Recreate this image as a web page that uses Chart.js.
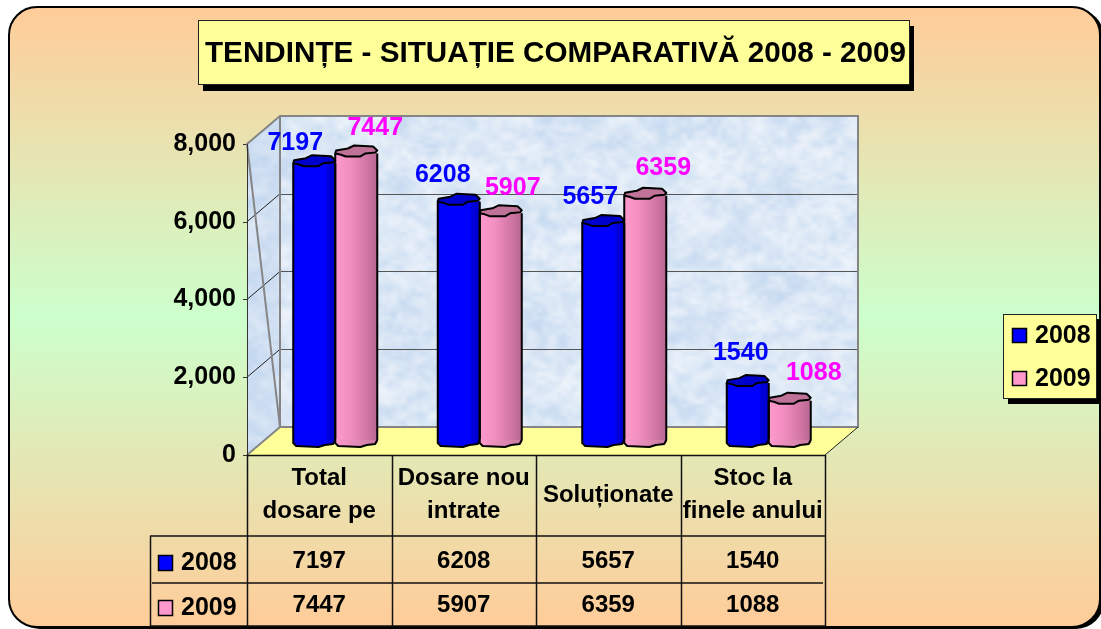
<!DOCTYPE html>
<html>
<head>
<meta charset="utf-8">
<style>html,body{margin:0;padding:0;background:#fff;overflow:hidden}canvas{display:block}</style>
<script src="https://cdn.jsdelivr.net/npm/chart.js@4"></script>
</head>
<body>
<canvas id="c" width="1101" height="629"></canvas>
<script>
const chartTitle = "TENDINȚE - SITUAȚIE COMPARATIVĂ 2008 - 2009";
const categories = [["Total","dosare pe"],["Dosare nou","intrate"],["Soluționate"],["Stoc la","finele anului"]];
const seriesNames = ["2008","2009"];
const values2008 = [7197,6208,5657,1540];
const values2009 = [7447,5907,6359,1088];
const yTicks = [0,2000,4000,6000,8000];

const FONT = '"Liberation Sans", Arial, sans-serif';
const BLUE = '#0000FF', PINK = '#FF99CC', YEL = '#FFFF99';
const DX = 33, DY = 28;            // depth of the 3D box
const labelNudge = [[[-19,-20],[19,-25]],[[-16,-27],[12,-25]],[[-13,-26],[18,-28]],[[-7,-30],[24,-28]]];

function rr(g,x,y,w,h,r){g.beginPath();g.roundRect(x,y,w,h,r);}
function poly(g,pts){g.beginPath();pts.forEach((p,i)=>i?g.lineTo(p[0],p[1]):g.moveTo(p[0],p[1]));g.closePath();}
function hash(x,y){const s=Math.sin(x*12.9898+y*78.233)*43758.5453;return s-Math.floor(s);}

function marble(w,h){
  const out=document.createElement('canvas');out.width=w;out.height=h;
  const o=out.getContext('2d');o.imageSmoothingEnabled=true;o.imageSmoothingQuality='high';
  o.fillStyle='#DDE9F6';o.fillRect(0,0,w,h);
  [[24,.55,1],[10,.5,7],[5,.3,13]].forEach(([cell,alpha,seed])=>{
    const cw=Math.ceil(w/cell)+1,ch=Math.ceil(h/(cell*.8))+1;
    const t=document.createElement('canvas');t.width=cw;t.height=ch;
    const tc=t.getContext('2d');const im=tc.createImageData(cw,ch);
    for(let y=0;y<ch;y++)for(let x=0;x<cw;x++){
      const v=hash(x+seed,y+seed*3),i=(y*cw+x)*4;
      if(v>.5){im.data[i]=244;im.data[i+1]=247;im.data[i+2]=252;}else{im.data[i]=190;im.data[i+1]=212;im.data[i+2]=238;}
      im.data[i+3]=Math.abs(v-.5)*2*255;
    }
    tc.putImageData(im,0,0);
    o.globalAlpha=alpha;o.drawImage(t,0,0,cw*cell,ch*cell*.8);
  });
  o.globalAlpha=1;
  return out;
}

const scenePlugin = {
  id:'scene',
  beforeDraw(c){
    const g=c.ctx;
    g.save();
    g.fillStyle='#fff';g.fillRect(0,0,c.width,c.height);
    // panel shadow, panel, border
    g.fillStyle='#000';rr(g,12,9,1092,620,28);g.fill();
    const grad=g.createLinearGradient(0,7,0,627);
    grad.addColorStop(0,'#FFCC99');grad.addColorStop(.5,'#CCFFCC');grad.addColorStop(1,'#FFCC99');
    g.fillStyle=grad;rr(g,9,7,1091,620,28);g.fill();
    g.strokeStyle='#000';g.lineWidth=2;g.stroke();
    // title box
    g.fillStyle='#000';g.fillRect(203,26,711,65);
    g.fillStyle=YEL;g.fillRect(198.5,20.5,711,64);
    g.strokeStyle='#222';g.lineWidth=1;g.strokeRect(198.5,20.5,711,64);
    g.fillStyle='#000';g.font='bold 30px '+FONT;g.textAlign='left';g.textBaseline='middle';
    g.fillText(chartTitle,205,54,701);
    // legend box
    g.fillStyle='#000';g.fillRect(1008,319,93,85);
    g.fillStyle=YEL;g.fillRect(1003.5,314.5,93,84);
    g.strokeStyle='#222';g.strokeRect(1003.5,314.5,93,84);
    [[336,BLUE],[379,PINK]].forEach(([y,col],i)=>{
      g.fillStyle=col;g.fillRect(1012.5,y-7.5,14,14);
      g.strokeStyle='#000';g.lineWidth=1.5;g.strokeRect(1012.5,y-7.5,14,14);
      g.fillStyle='#000';g.font='bold 25px '+FONT;g.textAlign='left';g.textBaseline='middle';
      g.fillText(seriesNames[i],1035,y);
    });
    g.restore();
  },
  beforeDatasetsDraw(c){
    const g=c.ctx,ys=c.scales.y,xs=c.scales.x;
    const top=ys.getPixelForValue(8000),bot=ys.getPixelForValue(0);
    const L=xs.getPixelForValue(0)-16-72.25,R=xs.getPixelForValue(3)-16+72.25;
    g.save();
    const back=[[L+DX,top-DY],[R+DX,top-DY],[R+DX,bot-DY],[L+DX,bot-DY]];
    const side=[[L,top],[L+DX,top-DY],[L+DX,bot-DY],[L,bot]];
    const m=marble(Math.ceil(R+DX-L),Math.ceil(bot-top+DY));
    g.save();poly(g,back);g.clip();g.drawImage(m,L,top-DY);g.restore();
    g.save();poly(g,side);g.clip();g.drawImage(m,L,top-DY);
    g.fillStyle='rgba(170,195,230,.22)';g.fillRect(L,top-DY,DX,bot-top+DY);g.restore();
    // floor
    poly(g,[[L,bot],[L+DX,bot-DY],[R+DX,bot-DY],[R,bot]]);g.fillStyle=YEL;g.fill();
    // gridlines
    yTicks.forEach(v=>{
      const y=ys.getPixelForValue(v);
      if(v>0&&v<8000){
        g.strokeStyle='#555';g.lineWidth=1;g.beginPath();g.moveTo(L+DX,Math.round(y-DY)+.5);g.lineTo(R+DX,Math.round(y-DY)+.5);g.stroke();
        g.strokeStyle='#222';g.beginPath();g.moveTo(L,y);g.lineTo(L+DX,y-DY);g.stroke();
      }
      g.strokeStyle='#333';g.lineWidth=1;g.beginPath();g.moveTo(L-4,Math.round(y)+.5);g.lineTo(L,Math.round(y)+.5);g.stroke();
    });
    // frame
    g.strokeStyle='#858585';g.lineWidth=2;
    g.beginPath();g.moveTo(L,top);g.lineTo(L+DX,top-DY);g.lineTo(R+DX,top-DY);g.lineTo(R+DX,bot-DY);g.lineTo(L+DX,bot-DY);g.closePath();g.stroke();
    g.beginPath();g.moveTo(L+DX,top-DY);g.lineTo(L+DX,bot-DY);g.lineTo(L,bot);g.stroke();
    g.strokeStyle='#333';g.lineWidth=1;
    g.beginPath();g.moveTo(Math.round(L)+.5,top);g.lineTo(Math.round(L)+.5,bot);g.stroke();
    g.strokeStyle='#222';g.beginPath();g.moveTo(R,bot);g.lineTo(R+DX,bot-DY);g.stroke();
    g.restore();
  },
  afterDatasetsDraw(c){
    const g=c.ctx;
    g.save();
    const caps=['#0000CC','#BF7399'];
    [0,1].forEach(d=>{
      c.getDatasetMeta(d).data.forEach(el=>{
        const x0=el.x-el.width/2,w=el.width,yt=el.y,yb=el.base;
        // shading over the library's bar
        const sh=g.createLinearGradient(x0,0,x0+w,0);
        if(d===0){
          sh.addColorStop(0,'rgba(0,0,60,.10)');sh.addColorStop(.08,'rgba(0,0,60,0)');sh.addColorStop(.78,'rgba(0,0,60,0)');
          sh.addColorStop(.8,'rgba(0,0,60,.16)');sh.addColorStop(1,'rgba(0,0,60,.28)');
        }else{
          sh.addColorStop(0,'rgba(90,20,60,0)');sh.addColorStop(.35,'rgba(90,20,60,.08)');sh.addColorStop(1,'rgba(70,20,50,.38)');
        }
        g.fillStyle=sh;g.fillRect(x0,yt,w,yb-yt);
        // bottom lump
        const bottom=[[0,0],[.07,3],[.6,4],[.75,2],[.95,1],[1,-3]].map(p=>[x0+p[0]*w,yb+p[1]]);
        poly(g,[[x0,yb-4],...bottom]);
        const bg=g.createLinearGradient(x0,0,x0+w,0);
        if(d===0){bg.addColorStop(0,'#0000F5');bg.addColorStop(.78,'#0000F5');bg.addColorStop(1,'#0000C0');}
        else{bg.addColorStop(0,'#FF99CC');bg.addColorStop(1,'#C77BA0');}
        g.fillStyle=bg;g.fill();
        g.strokeStyle='#000';g.lineWidth=2;g.lineJoin='round';
        g.beginPath();g.moveTo(x0,yt);g.lineTo(x0,yb);bottom.forEach(p=>g.lineTo(p[0],p[1]));g.lineTo(x0+w,yt);g.stroke();
        // cap
        const cap=[[0,0],[.02,-3],[.3,-5],[.45,-8],[.9,-7],[1,-3],[.96,-1],[.72,0],[.6,3],[.25,3],[.12,1]].map(p=>[x0+p[0]*w,yt+p[1]]);
        poly(g,cap);g.fillStyle=caps[d];g.fill();g.stroke();
      });
    });
    // value labels
    g.font='bold 25px '+FONT;g.textAlign='center';g.textBaseline='middle';
    [0,1].forEach(d=>{
      g.fillStyle=d?'#FF00FF':'#0000FF';
      c.getDatasetMeta(d).data.forEach((el,i)=>{
        const n=labelNudge[i][d];
        g.fillText(String(c.data.datasets[d].data[i]),el.x+n[0],el.y+n[1]);
      });
    });
    g.restore();
  },
  afterDraw(c){
    const g=c.ctx,xs=c.scales.x,ys=c.scales.y;
    const bot=Math.round(ys.getPixelForValue(0));
    const colX=i=>xs.getPixelForValue(i)-16;
    const rows=[536,583,626];
    g.save();
    g.strokeStyle='#111';g.lineWidth=1.5;
    const hl=(a,b,y)=>{g.beginPath();g.moveTo(a,y);g.lineTo(b,y);g.stroke();};
    const vl=(x,a,b)=>{g.beginPath();g.moveTo(x,a);g.lineTo(x,b);g.stroke();};
    const L=colX(0)-72.25,R=colX(3)+72.25;
    hl(L,R,bot+.5);hl(150,R,rows[0]);hl(152,R-2,rows[1]);hl(150,R,rows[2]);
    for(let i=0;i<=4;i++){const x=Math.round(L+i*144.5)+.5;vl(x,bot,rows[2]);}
    vl(150.5,rows[0],rows[2]);
    g.fillStyle='#000';g.font='bold 24px '+FONT;g.textAlign='center';g.textBaseline='middle';
    categories.forEach((lines,i)=>{
      if(lines.length===2){g.fillText(lines[0],colX(i),478);g.fillText(lines[1],colX(i),511);}
      else g.fillText(lines[0],colX(i),495);
      g.fillText(String(values2008[i]),colX(i),561);
      g.fillText(String(values2009[i]),colX(i),605);
    });
    [[563,BLUE],[608,PINK]].forEach(([y,col],i)=>{
      g.fillStyle=col;g.fillRect(158.5,y-7.5,14,15);
      g.strokeStyle='#000';g.lineWidth=1.5;g.strokeRect(158.5,y-7.5,14,15);
      g.fillStyle='#000';g.font='bold 25px '+FONT;g.textAlign='left';
      g.fillText(seriesNames[i],181,y);
    });
    g.restore();
  }
};

new Chart(document.getElementById('c'),{
  type:'bar',
  data:{
    labels:categories,
    datasets:[
      {label:seriesNames[0],data:values2008,backgroundColor:BLUE,yAxisID:'yBars',barThickness:42},
      {label:seriesNames[1],data:values2009,backgroundColor:PINK,yAxisID:'yBars',barThickness:42}
    ]
  },
  plugins:[scenePlugin],
  options:{
    responsive:false,animation:false,events:[],
    layout:{padding:{left:0,top:116,right:260,bottom:174}},
    plugins:{legend:{display:false},title:{display:false},tooltip:{enabled:false}},
    scales:{
      x:{display:false},
      y:{
        position:'left',min:0,max:8720,
        afterBuildTicks(a){a.ticks=yTicks.map(v=>({value:v}));},
        afterFit(a){a.width=263;},
        grid:{display:false,drawTicks:false},border:{display:false},
        ticks:{padding:27,color:'#000',font:{family:'"Liberation Sans"',size:25,weight:'bold'},autoSkip:false}
      },
      yBars:{display:false,min:-309,max:8411}
    }
  }
});
</script>
</body>
</html>
